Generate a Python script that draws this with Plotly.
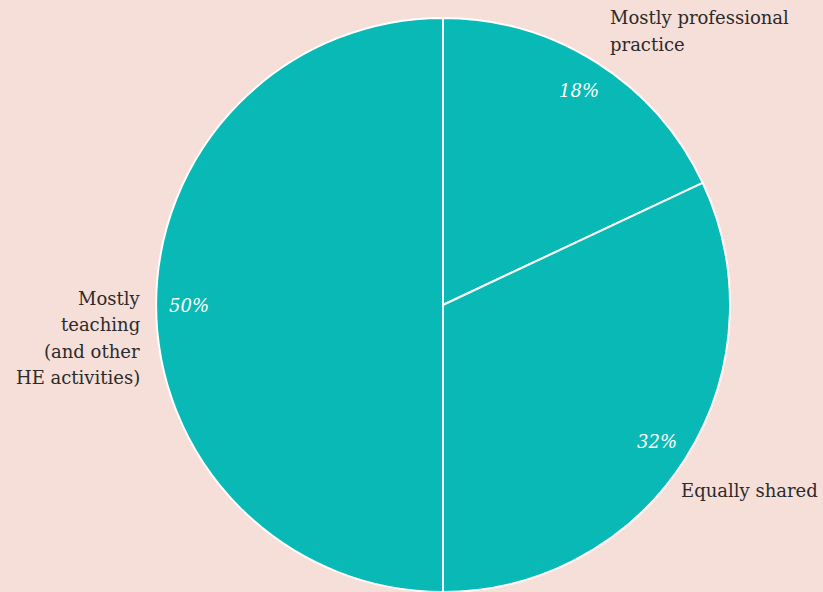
import math
import plotly.graph_objects as go

categories = ["Mostly professional<br>practice", "Equally shared", "Mostly<br>teaching<br>(and other<br>HE activities)"]
values = [18, 32, 50]
pct_labels = ["18%", "32%", "50%"]

W, H = 823, 592
BG = "#F6DFD9"
TEAL = "#08B9B6"
FONT = "DejaVu Serif"
TXT = "#2b2b2b"

cx, cy, R = 443, 305, 287

fig = go.Figure(go.Pie(
    labels=categories,
    values=values,
    sort=False,
    direction="clockwise",
    rotation=0,
    marker=dict(colors=[TEAL] * 3, line=dict(color="white", width=2)),
    textinfo="none",
    hoverinfo="label+percent",
    showlegend=False,
    domain=dict(x=[(cx - R) / W, (cx + R) / W], y=[(H - cy - R) / H, (H - cy + R) / H]),
))

annotations = []
# percent labels placed along slice mid-angles
total = sum(values)
cum = 0
for v, t in zip(values, pct_labels):
    mid = (cum + v / 2) / total * 2 * math.pi
    cum += v
    r = 0.885 * R
    px = cx + r * math.sin(mid)
    py = cy - r * math.cos(mid)
    annotations.append(dict(x=px / W, y=1 - py / H, xref="paper", yref="paper",
                            text=t, showarrow=False, xanchor="center", yanchor="middle",
                            font=dict(family=FONT, size=18, color="white", style="italic")))

# outside category labels, one annotation per line
LINE = 26.5
placements = [
    (608, 18, "left"),   # Mostly professional practice
    (679, 490, "left"),  # Equally shared
    (142, 298, "right"), # Mostly teaching ...
]
for cat, (x0, y0, side) in zip(categories, placements):
    for i, line in enumerate(cat.split("<br>")):
        annotations.append(dict(x=x0 / W, y=1 - (y0 + i * LINE) / H, xref="paper", yref="paper",
                                text=line, showarrow=False, xanchor=side, yanchor="middle",
                                align=side, font=dict(family=FONT, size=18, color=TXT)))

fig.update_layout(
    width=W, height=H,
    margin=dict(l=0, r=0, t=0, b=0),
    paper_bgcolor=BG, plot_bgcolor=BG,
    annotations=annotations,
)

fig.write_html("out.html", config={"displayModeBar": False},
               post_script="document.body.style.margin='0';document.body.style.background='%s';" % BG)
